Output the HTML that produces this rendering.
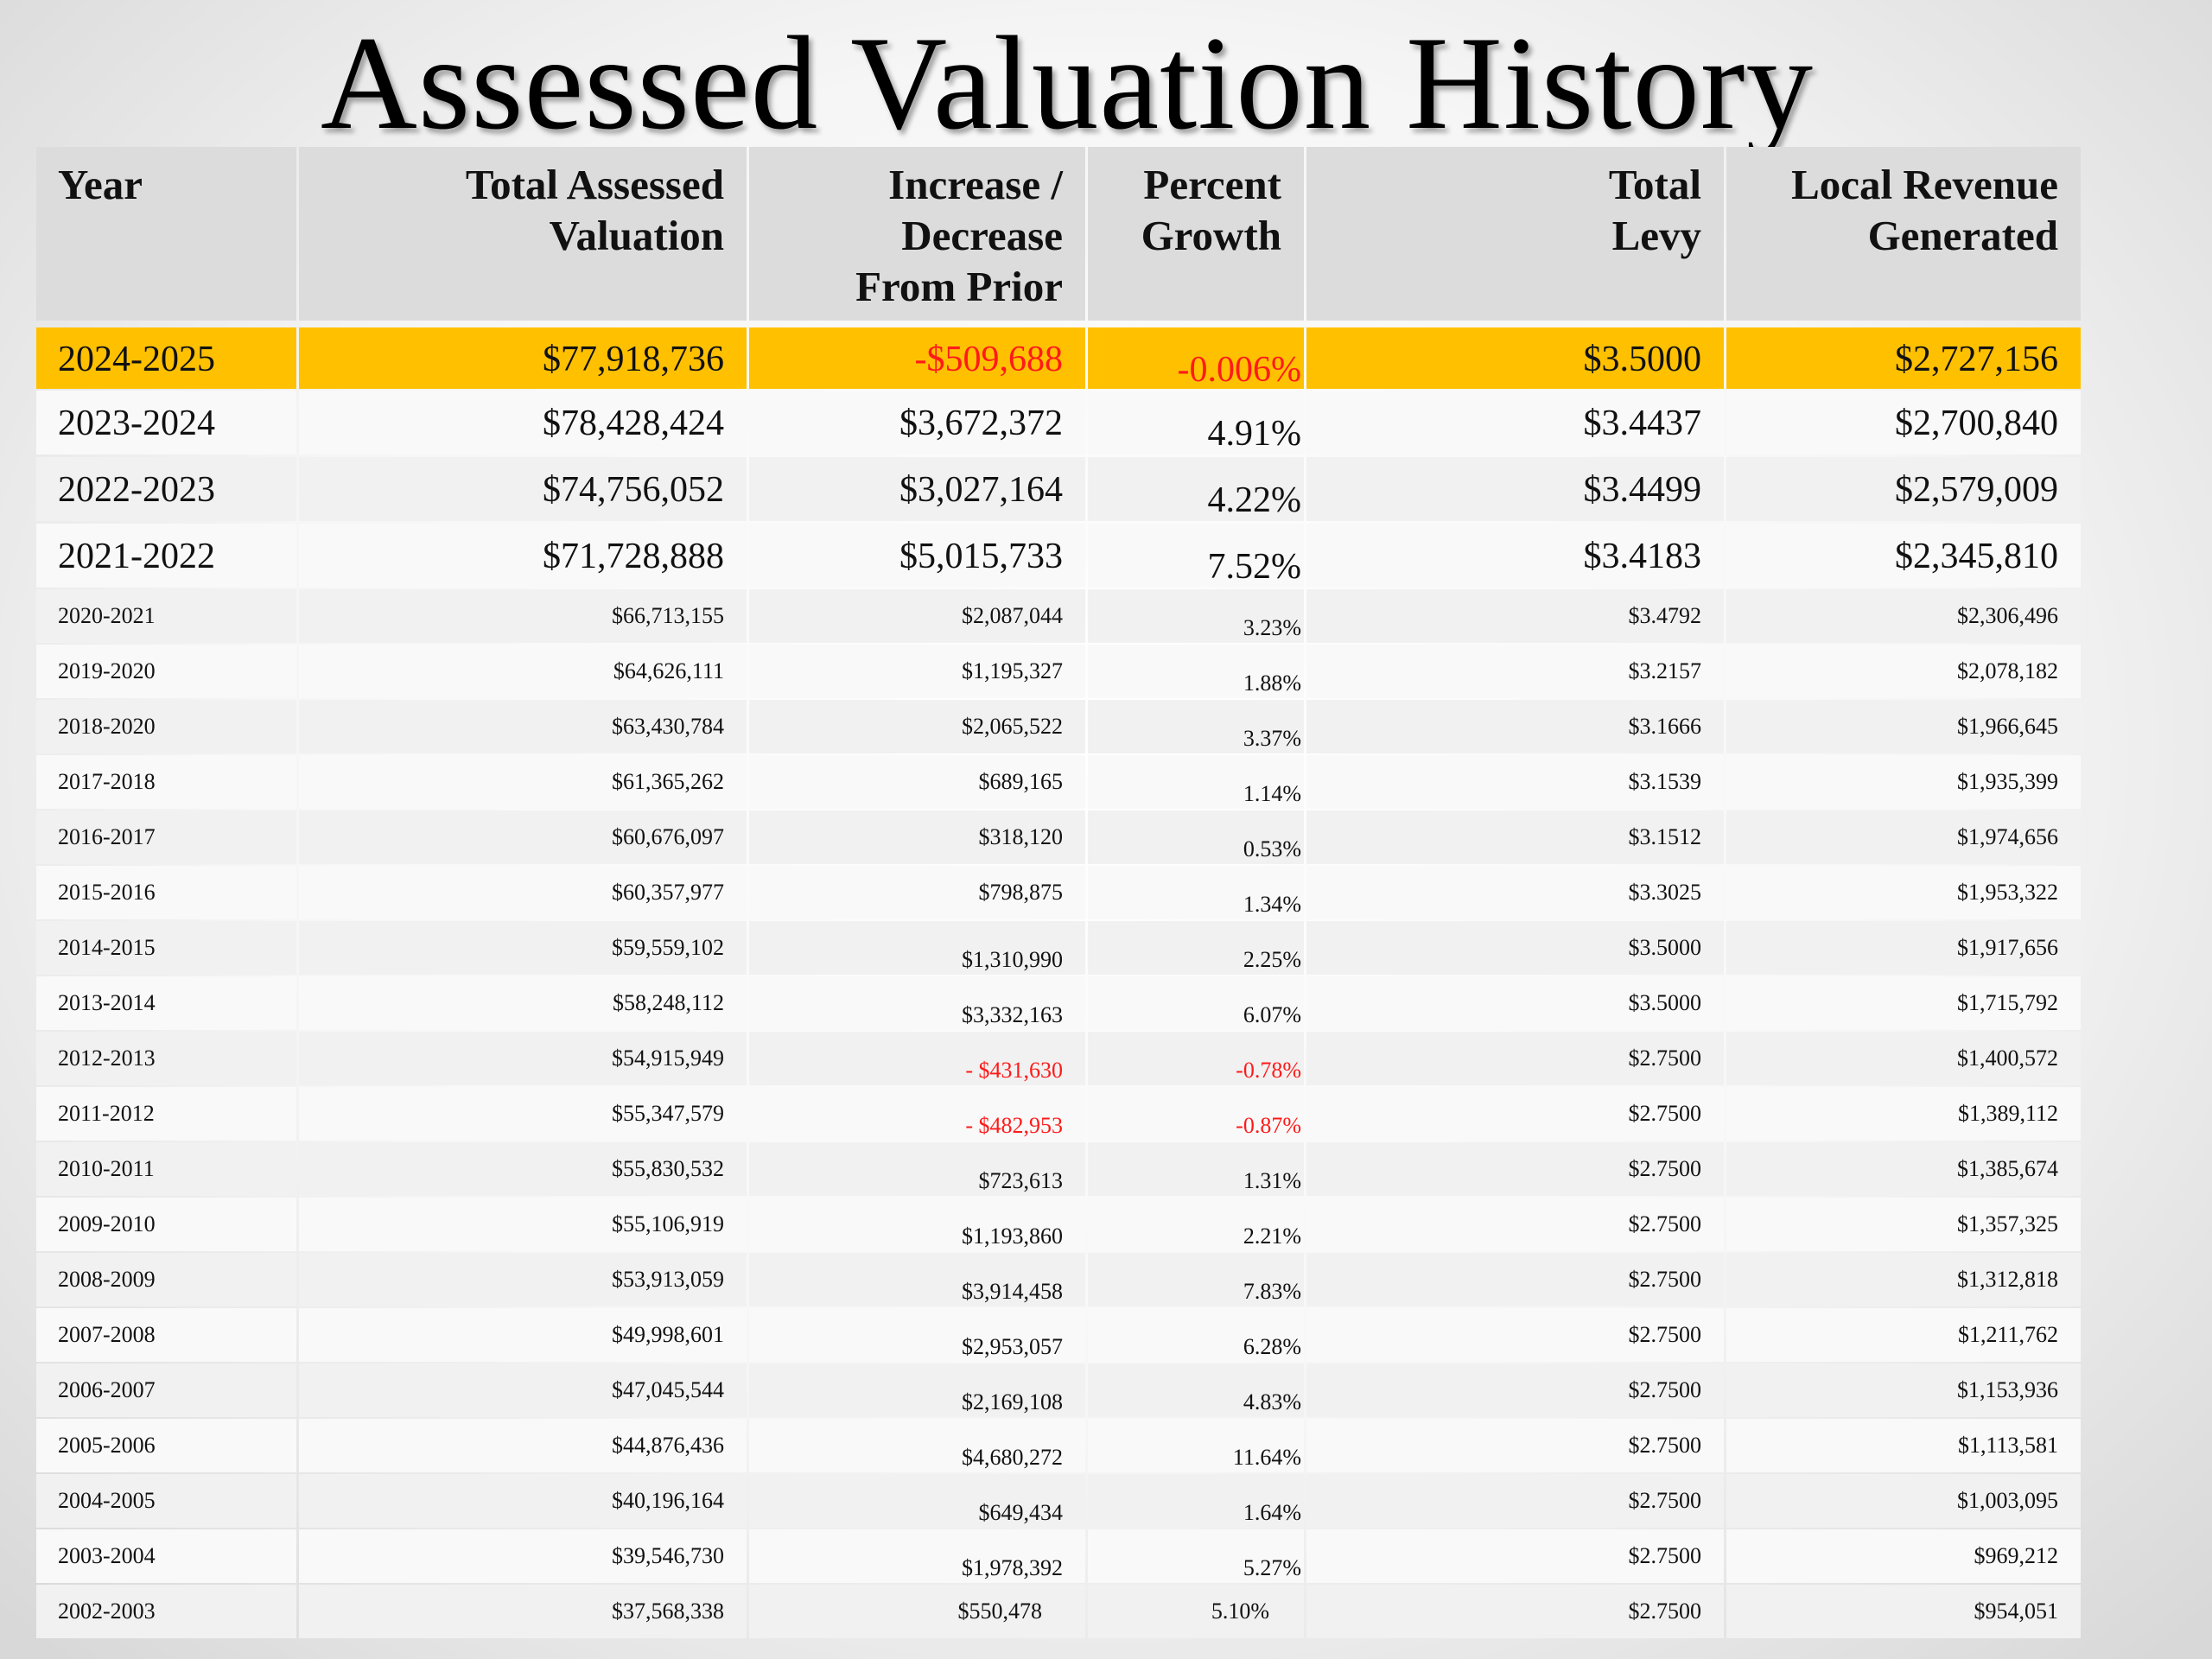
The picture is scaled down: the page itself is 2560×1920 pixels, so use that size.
<!DOCTYPE html>
<html><head><meta charset="utf-8">
<style>
html,body{margin:0;padding:0}
body{width:2560px;height:1920px;position:relative;overflow:hidden;font-family:"Liberation Serif",serif;
background:radial-gradient(ellipse 70% 75% at 50% 45%,#ffffff 0%,#f6f6f6 55%,#d8d8d8 100%);}
#title{position:absolute;left:0;width:2470px;top:10px;text-align:center;font-size:155px;line-height:172px;color:#000;text-shadow:4px 5px 6px rgba(0,0,0,0.35);letter-spacing:1px}
.cell{position:absolute;box-sizing:border-box;color:#111;white-space:nowrap;overflow:visible}
.hdr{background:#dcdcdc;font-weight:bold;font-size:49px;line-height:59px;padding-top:14px;color:#111}
.t{position:absolute;right:26px}
.l{position:absolute;left:25px}
</style></head>
<body>
<div id="title">Assessed Valuation History</div>
<div id="tbl"></div>
<script>
const headers=["Year","Total Assessed<br>Valuation","Increase /<br>Decrease<br>From Prior","Percent<br>Growth","Total<br>Levy","Local Revenue<br>Generated"];
const years=["2024-2025","2023-2024","2022-2023","2021-2022","2020-2021","2019-2020","2018-2020","2017-2018","2016-2017","2015-2016","2014-2015","2013-2014","2012-2013","2011-2012","2010-2011","2009-2010","2008-2009","2007-2008","2006-2007","2005-2006","2004-2005","2003-2004","2002-2003"];
const valuations=["$77,918,736","$78,428,424","$74,756,052","$71,728,888","$66,713,155","$64,626,111","$63,430,784","$61,365,262","$60,676,097","$60,357,977","$59,559,102","$58,248,112","$54,915,949","$55,347,579","$55,830,532","$55,106,919","$53,913,059","$49,998,601","$47,045,544","$44,876,436","$40,196,164","$39,546,730","$37,568,338"];
const changes=["-$509,688","$3,672,372","$3,027,164","$5,015,733","$2,087,044","$1,195,327","$2,065,522","$689,165","$318,120","$798,875","$1,310,990","$3,332,163","- $431,630","- $482,953","$723,613","$1,193,860","$3,914,458","$2,953,057","$2,169,108","$4,680,272","$649,434","$1,978,392","$550,478"];
const growth=["-0.006%","4.91%","4.22%","7.52%","3.23%","1.88%","3.37%","1.14%","0.53%","1.34%","2.25%","6.07%","-0.78%","-0.87%","1.31%","2.21%","7.83%","6.28%","4.83%","11.64%","1.64%","5.27%","5.10%"];
const levies=["$3.5000","$3.4437","$3.4499","$3.4183","$3.4792","$3.2157","$3.1666","$3.1539","$3.1512","$3.3025","$3.5000","$3.5000","$2.7500","$2.7500","$2.7500","$2.7500","$2.7500","$2.7500","$2.7500","$2.7500","$2.7500","$2.7500","$2.7500"];
const revenues=["$2,727,156","$2,700,840","$2,579,009","$2,345,810","$2,306,496","$2,078,182","$1,966,645","$1,935,399","$1,974,656","$1,953,322","$1,917,656","$1,715,792","$1,400,572","$1,389,112","$1,385,674","$1,357,325","$1,312,818","$1,211,762","$1,153,936","$1,113,581","$1,003,095","$969,212","$954,051"];

const tbl=document.getElementById('tbl');
const colX=[42,346,867,1259,1512,1998,2411];
const names=['year','valuation','change','growth','levy','revenue'];
function rowGeom(i){
  if(i===0) return [379,71];
  if(i<=3) return [452+(i-1)*77,74];
  return [682+(i-4)*64,62];
}
headers.forEach((h,c)=>{
  const d=document.createElement('div');
  d.className='cell hdr';
  
  
  d.style.left=colX[c]+'px';d.style.top='170px';
  d.style.width=(colX[c+1]-colX[c]-3)+'px';d.style.height='201px';
  const s=document.createElement('span');
  s.className=c===0?'l':'t';
  s.innerHTML=h;
  s.style.textAlign=c===0?'left':'right';
  d.appendChild(s);
  tbl.appendChild(d);
});
years.forEach((y,i)=>{
  const [top,h]=rowGeom(i);
  const big=i<=3;
  const fs=big?42:26;
  const vals=[y,valuations[i],changes[i],growth[i],levies[i],revenues[i]];
  let bg;
  if(i===0) bg='#ffc000';
  else bg=(i%2===1)?'#f9f9f9':'#f1f1f1';
  vals.forEach((v,c)=>{
    const d=document.createElement('div');
    d.className='cell';
    
    
    d.style.left=colX[c]+'px';d.style.top=top+'px';
    d.style.width=(colX[c+1]-colX[c]-3)+'px';d.style.height=h+'px';
    d.style.background=bg;
    const s=document.createElement('span');
    s.className=c===0?'l':'t';
    s.textContent=v;
    s.style.fontSize=fs+'px';
    s.style.lineHeight=fs+'px';
    let off=big?(h-fs)/2+1:(h-fs)/2;
    if(c===3){ s.style.right='3px'; off+= big?12:14; if(i===22){off-=14;s.style.right='40px';} }
    if(c===2 && i>=10 && i<=21) off+=14;
    if(c===2 && i===22) s.style.right='50px';
    s.style.top=off+'px';
    if(i===0 && (c===2||c===3)) s.style.color='#ff1a1a';
    if((i===12||i===13)&&(c===2||c===3)) s.style.color='#ff1a1a';
    d.appendChild(s);
    tbl.appendChild(d);
  });
});
</script>
</body></html>
